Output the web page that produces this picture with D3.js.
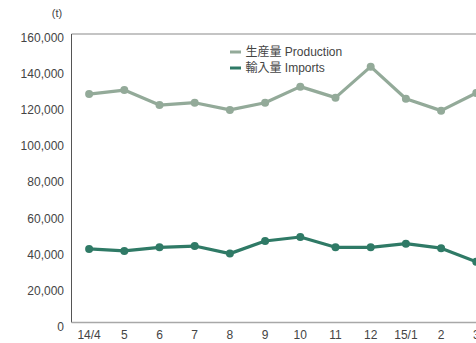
<!DOCTYPE html>
<html>
<head>
<meta charset="utf-8">
<script src="https://cdn.jsdelivr.net/npm/d3@7"></script>
<style>
  body { margin: 0; background: #fff; }
  text { font-family: "Liberation Sans", Arial, "Noto Sans CJK JP", sans-serif; }
</style>
</head>
<body>
<div id="chart"></div>
<script>
// months (14/4 .. 15/3)
const months = ["14/4", "5", "6", "7", "8", "9", "10", "11", "12", "15/1", "2", "3"];
// production (t)
const production = [126700, 128900, 120600, 121900, 117900, 121900, 130800, 124700, 141900, 124100, 117500, 127300];
// imports (t)
const imports = [40800, 39700, 41700, 42400, 38200, 45200, 47400, 41700, 41700, 43700, 41200, 33700];
const yTicks = [0, 20000, 40000, 60000, 80000, 100000, 120000, 140000, 160000];
const seriesNames = ["生産量 Production", "輸入量 Imports"];

const width = 476, height = 343;
const margin = {top: 34, left: 71.5, bottom: 322.5};
const colors = ["#93aa99", "#2f7a66"];

let svg = d3.select("#chart")
  .append("svg")
  .attr("width", width)
  .attr("height", height);

var xScale = d3.scalePoint()
  .domain(months)
  .range([margin.left + 17.6, margin.left + 17.6 + 35.2 * 11]);

var yScale = d3.scaleLinear()
  .domain([0, 160000])
  .range([margin.bottom, margin.top]);

// frame: top line, left axis, bottom axis
svg.append("line")
  .attr("x1", margin.left).attr("x2", width)
  .attr("y1", margin.top).attr("y2", margin.top)
  .attr("stroke", "#8a8a8a").attr("stroke-width", 1.2);
svg.append("line")
  .attr("x1", margin.left).attr("x2", margin.left)
  .attr("y1", margin.top).attr("y2", margin.bottom)
  .attr("stroke", "#555").attr("stroke-width", 1);
svg.append("line")
  .attr("x1", margin.left).attr("x2", width)
  .attr("y1", margin.bottom).attr("y2", margin.bottom)
  .attr("stroke", "#a8a8a8").attr("stroke-width", 1.6);

// y labels
svg.selectAll(".ylab")
  .data(yTicks)
  .enter().append("text")
  .attr("class", "ylab")
  .attr("x", 64)
  .attr("y", d => yScale(d) + 4)
  .attr("dy", "0.35em")
  .attr("text-anchor", "end")
  .attr("font-size", 12)
  .attr("fill", "#444")
  .text(d => d3.format(",")(d));

svg.append("text")
  .attr("x", 57).attr("y", 13)
  .attr("dy", "0.35em")
  .attr("text-anchor", "middle")
  .attr("font-size", 11)
  .attr("fill", "#444")
  .text("(t)");

// x labels
svg.selectAll(".xlab")
  .data(months)
  .enter().append("text")
  .attr("class", "xlab")
  .attr("x", d => xScale(d))
  .attr("y", 335)
  .attr("dy", "0.35em")
  .attr("text-anchor", "middle")
  .attr("font-size", 12)
  .attr("fill", "#444")
  .text(d => d);

// lines + markers
[production, imports].forEach(function(vals, i) {
  var pts = vals.map((v, j) => ({m: months[j], v: v}));
  svg.append("path")
    .datum(pts)
    .attr("fill", "none")
    .attr("stroke", colors[i])
    .attr("stroke-width", 3.2)
    .attr("stroke-linejoin", "round")
    .attr("d", d3.line()
      .x(d => xScale(d.m))
      .y(d => yScale(d.v)));
  svg.selectAll(".dot" + i)
    .data(pts)
    .enter().append("circle")
    .attr("cx", d => xScale(d.m))
    .attr("cy", d => yScale(d.v))
    .attr("r", 4)
    .attr("fill", colors[i]);
});

// legend
var legend = svg.append("g").attr("transform", "translate(230,52)");
seriesNames.forEach(function(name, i) {
  legend.append("line")
    .attr("x1", 0).attr("x2", 11)
    .attr("y1", i * 16).attr("y2", i * 16)
    .attr("stroke", colors[i]).attr("stroke-width", 3);
  legend.append("text")
    .attr("x", 15.5).attr("y", i * 16)
    .attr("dy", "0.35em")
    .attr("font-size", 12)
    .attr("fill", "#444")
    .text(name);
});
</script>
</body>
</html>
